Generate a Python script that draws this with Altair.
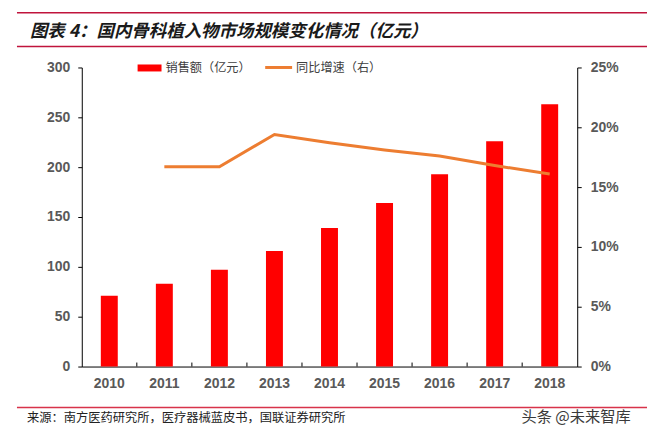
import altair as alt
import pandas as pd

years = ["2010", "2011", "2012", "2013", "2014", "2015", "2016", "2017", "2018"]
sales = [71, 83, 97, 116, 139, 164, 193, 226, 263]
growth_years = ["2011", "2012", "2013", "2014", "2015", "2016", "2017", "2018"]
growth = [0.167, 0.167, 0.194, 0.187, 0.181, 0.176, 0.168, 0.161]

title_text = "图表 4：国内骨科植入物市场规模变化情况（亿元）"
legend_bar = "销售额（亿元）"
legend_line = "同比增速（右）"
source_text = "来源：南方医药研究所，医疗器械蓝皮书，国联证券研究所"
watermark = "头条 @未来智库"

W, H = 497, 300
LAB_FONT = "Liberation Sans"
CJK = "Noto Sans CJK SC"

bar_df = pd.DataFrame({"year": years, "sales": sales})
line_df = pd.DataFrame({"year": growth_years, "growth": growth})
tick_df = pd.DataFrame({"year": years[1:]})

xscale = alt.Scale(domain=years, paddingInner=0, paddingOuter=0)

xaxis = alt.Axis(
    title=None, labelFont=LAB_FONT, labelFontWeight="bold", labelFontSize=14,
    labelColor="#595959", labelPadding=10, ticks=False, domainColor="#000000",
    domainWidth=1, labelAngle=0, grid=False,
)

bars = alt.Chart(bar_df).mark_bar(size=17, color="#FF0000").encode(
    x=alt.X("year:O", scale=xscale, axis=xaxis),
    y=alt.Y("sales:Q", scale=alt.Scale(domain=[0, 300], nice=False),
            axis=alt.Axis(title=None, values=[0, 50, 100, 150, 200, 250, 300],
                          labelFont=LAB_FONT, labelFontWeight="bold", labelFontSize=14,
                          labelColor="#595959", labelPadding=8, tickSize=4,
                          tickColor="#000000", domainColor="#000000", grid=False)),
)

xticks = alt.Chart(tick_df).mark_rule(color="#000000", strokeWidth=1, xOffset=-W / 18).encode(
    x=alt.X("year:O", scale=xscale, axis=xaxis),
    y=alt.value(H - 4),
    y2=alt.value(H),
)

line = alt.Chart(line_df).mark_line(color="#ED7D31", strokeWidth=3).encode(
    x=alt.X("year:O", scale=xscale, axis=xaxis),
    y=alt.Y("growth:Q", scale=alt.Scale(domain=[0, 0.25], nice=False),
            axis=alt.Axis(title=None, orient="right", format=".0%",
                          values=[0, 0.05, 0.10, 0.15, 0.20, 0.25],
                          labelFont=LAB_FONT, labelFontWeight="bold", labelFontSize=14,
                          labelColor="#595959", labelPadding=9, tickSize=4,
                          tickColor="#000000", domainColor="#000000", grid=False)),
)

one = pd.DataFrame({"a": [0]})

def txt(text, x, y, size, color, font=CJK, weight="normal", style="normal", align="left"):
    return alt.Chart(one).mark_text(
        text=text, font=font, fontSize=size, color=color, fontWeight=weight,
        fontStyle=style, align=align, baseline="middle",
    ).encode(x=alt.value(x), y=alt.value(y))

def hline(x1, x2, y, color, width=1.5):
    return alt.Chart(one).mark_rule(color=color, strokeWidth=width).encode(
        x=alt.value(x1), x2=alt.value(x2), y=alt.value(y))

title = txt(title_text, -52, -36, 17.5, "#1a1a1a", weight="bold", style="italic")
top1 = hline(-65, 573, -55, "#C0143C")
top2 = hline(-65, 573, -21, "#C0143C")
foot = hline(-65, 573, 341, "#D8334A")
source = txt(source_text, -55, 352, 12.3, "#222222")
wm = txt(watermark, 441, 351, 15.3, "#3a3a3a")

leg_bar = alt.Chart(one).mark_rect(color="#FF0000").encode(
    x=alt.value(56), x2=alt.value(80), y=alt.value(-3), y2=alt.value(4))
leg_bar_t = txt(legend_bar, 84, 0.5, 12.2, "#404040")
leg_line = alt.Chart(one).mark_rule(color="#ED7D31", strokeWidth=3).encode(
    x=alt.value(184), x2=alt.value(211), y=alt.value(0))
leg_line_t = txt(legend_line, 215, 0.5, 12.2, "#404040")

main = alt.layer(bars, xticks, line).resolve_scale(y="independent")

chart = alt.layer(
    main, title, top1, top2, foot, source, wm, leg_bar, leg_bar_t, leg_line, leg_line_t
).properties(
    width=W, height=H,
    autosize=alt.AutoSizeParams(type="none"),
    padding={"left": 74, "top": 59, "right": 70, "bottom": 64},
).configure_view(stroke=None)

chart.save("out.html", embed_options={"renderer": "svg", "actions": False})
